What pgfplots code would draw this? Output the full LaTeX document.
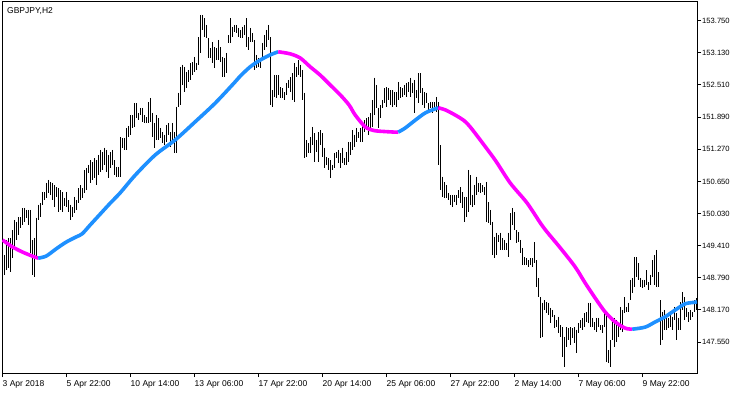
\documentclass[border=0pt]{standalone}
\usepackage{fontspec}
\setmainfont{Liberation Sans}
\usepackage{pgfplots}
\usepackage{pgfplotstable}
\pgfplotsset{compat=1.18}
\definecolor{maBlue}{RGB}{30,144,255}
\definecolor{maMag}{RGB}{255,0,255}
\pgfplotstableread{
i hi lo
0 149.33 148.90
1 149.23 148.85
2 149.52 148.94
3 149.56 148.98
4 149.56 148.90
5 149.71 149.17
6 149.91 149.37
7 149.87 149.52
8 149.96 149.62
9 149.96 149.75
10 150.14 149.81
11 150.14 149.87
12 150.10 149.95
13 150.10 149.81
14 150.10 149.27
15 149.52 148.85
16 149.56 148.81
17 149.95 149.17
18 150.20 149.91
19 150.23 149.96
20 150.45 150.20
21 150.45 150.29
22 150.62 150.33
23 150.68 150.43
24 150.64 150.39
25 150.62 150.29
26 150.58 150.16
27 150.54 150.35
28 150.52 150.06
29 150.48 150.10
30 150.45 150.06
31 150.33 150.18
32 150.45 150.16
33 150.29 150.06
34 150.20 149.91
35 150.16 149.96
36 150.35 150.04
37 150.29 150.10
38 150.52 150.23
39 150.58 150.29
40 150.52 150.33
41 150.87 150.43
42 150.91 150.48
43 150.97 150.81
44 151.06 150.62
45 151.02 150.68
46 151.10 150.72
47 151.06 150.58
48 151.16 150.77
49 151.26 150.83
50 151.22 150.87
51 151.30 150.97
52 151.26 150.83
53 151.16 150.72
54 151.22 150.91
55 151.26 150.97
56 151.06 150.77
57 150.93 150.74
58 150.93 150.74
59 151.51 150.74
60 151.49 151.30
61 151.49 151.26
62 151.68 151.26
63 151.72 151.51
64 151.93 151.55
65 151.93 151.68
66 152.16 151.70
67 152.16 151.87
68 151.97 151.83
69 152.07 151.93
70 152.07 151.80
71 151.93 151.78
72 151.89 151.78
73 152.18 151.78
74 152.26 151.80
75 151.97 151.51
76 151.78 151.30
77 151.93 151.45
78 151.87 151.45
79 151.68 151.49
80 151.60 151.39
81 151.55 151.35
82 151.74 151.41
83 151.78 151.55
84 151.60 151.31
85 151.78 151.39
86 151.60 151.20
87 152.09 151.20
88 152.36 152.09
89 152.86 152.12
90 152.90 152.51
91 152.86 152.37
92 152.76 152.45
93 152.80 152.57
94 152.93 152.61
95 152.95 152.70
96 153.05 152.76
97 152.93 152.80
98 153.43 152.90
99 153.86 153.13
100 153.86 153.57
101 153.80 153.43
102 153.67 153.42
103 153.42 153.03
104 153.22 153.03
105 153.34 152.93
106 153.24 152.84
107 153.22 152.99
108 153.38 152.99
109 153.24 152.95
110 153.05 152.66
111 153.03 152.66
112 153.13 152.74
113 153.47 153.32
114 153.80 153.32
115 153.63 153.43
116 153.67 153.53
117 153.67 153.51
118 153.61 153.43
119 153.57 153.42
120 153.63 153.42
121 153.67 153.47
122 153.80 153.24
123 153.43 153.18
124 153.61 153.34
125 153.51 153.34
126 153.38 152.80
127 153.09 152.84
128 153.03 152.86
129 153.03 152.84
130 153.32 152.99
131 153.47 153.18
132 153.57 153.24
133 153.67 153.38
134 153.43 152.12
135 152.41 152.09
136 152.70 152.28
137 152.70 152.26
138 152.70 152.32
139 152.47 152.26
140 152.45 152.26
141 152.37 152.22
142 152.55 152.32
143 152.61 152.45
144 152.66 152.37
145 152.74 152.22
146 152.93 152.18
147 152.86 152.66
148 152.99 152.70
149 152.90 152.66
150 152.80 152.22
151 152.36 151.10
152 151.45 151.12
153 151.39 151.20
154 151.51 151.20
155 151.70 151.35
156 151.58 151.02
157 151.45 151.22
158 151.60 151.02
159 151.64 151.35
160 151.58 151.12
161 151.30 150.91
162 151.12 150.97
163 151.10 150.87
164 151.06 150.72
165 150.97 150.87
166 151.20 150.91
167 151.22 151.10
168 151.26 151.00
169 151.20 150.91
170 151.30 151.00
171 151.10 150.97
172 151.22 150.97
173 151.41 151.02
174 151.41 151.16
175 151.64 151.26
176 151.55 151.31
177 151.68 151.41
178 151.60 151.49
179 151.68 151.41
180 151.74 151.41
181 151.83 151.60
182 151.87 151.64
183 151.89 151.55
184 151.97 151.64
185 152.22 151.70
186 152.65 151.93
187 152.51 152.07
188 152.07 151.68
189 152.12 151.87
190 152.22 152.07
191 152.45 152.16
192 152.47 152.09
193 152.45 152.22
194 152.41 152.12
195 152.41 152.09
196 152.37 152.12
197 152.37 152.09
198 152.57 152.22
199 152.47 152.26
200 152.45 152.28
201 152.51 152.32
202 152.55 152.28
203 152.57 152.37
204 152.65 152.28
205 152.55 152.36
206 152.61 151.97
207 152.41 152.26
208 152.74 152.16
209 152.74 152.36
210 152.45 152.12
211 152.37 152.07
212 152.36 152.16
213 152.16 151.99
214 152.18 152.07
215 152.18 151.97
216 152.18 152.03
217 152.28 151.99
218 152.18 150.97
219 151.35 150.48
220 150.74 150.35
221 150.64 150.33
222 150.58 150.33
223 150.43 150.29
224 150.39 150.20
225 150.39 150.16
226 150.39 150.25
227 150.39 150.20
228 150.48 150.33
229 150.54 150.23
230 150.45 150.14
231 150.35 149.87
232 150.35 149.96
233 150.87 150.06
234 150.77 150.20
235 150.39 150.16
236 150.58 150.20
237 150.74 150.39
238 150.62 150.45
239 150.62 150.43
240 150.58 150.45
241 150.54 150.39
242 150.64 149.87
243 150.25 149.85
244 150.10 149.81
245 149.87 149.23
246 149.58 149.17
247 149.66 149.23
248 149.62 149.48
249 149.66 149.33
250 149.56 149.33
251 149.52 149.33
252 149.46 149.33
253 149.66 149.19
254 150.04 149.52
255 150.14 149.81
256 150.06 149.71
257 149.71 149.46
258 149.67 149.48
259 149.52 149.27
260 149.37 149.04
261 149.19 149.04
262 149.17 149.04
263 149.13 149.00
264 149.17 149.04
265 149.17 149.00
266 149.48 149.08
267 149.13 148.61
268 148.79 148.42
269 148.42 147.63
270 148.31 147.65
271 148.36 148.17
272 148.32 148.11
273 148.31 148.07
274 148.21 147.92
275 148.17 148.04
276 148.07 147.82
277 147.98 147.84
278 148.04 147.73
279 147.88 147.65
280 147.84 147.26
281 147.65 147.07
282 147.84 147.46
283 147.82 147.59
284 147.84 147.50
285 147.82 147.63
286 147.84 147.53
287 147.79 147.34
288 147.92 147.73
289 147.98 147.82
290 148.02 147.79
291 148.11 147.84
292 148.13 147.94
293 148.31 147.92
294 148.31 147.84
295 148.02 147.84
296 147.94 147.79
297 148.02 147.75
298 148.02 147.84
299 147.88 147.79
300 147.88 147.73
301 148.11 147.84
302 148.11 147.17
303 147.40 147.15
304 147.59 147.07
305 147.94 147.59
306 148.02 147.46
307 147.98 147.55
308 147.92 147.65
309 148.23 147.79
310 148.17 147.75
311 148.42 148.11
312 148.23 148.13
313 148.31 148.13
314 148.75 148.36
315 148.79 148.50
316 149.19 148.61
317 149.19 148.81
318 149.08 148.75
319 148.79 148.61
320 148.75 148.60
321 148.75 148.61
322 148.94 148.65
323 148.71 148.56
324 148.85 148.65
325 149.13 148.81
326 149.23 148.65
327 149.33 148.61
328 148.90 148.61
329 148.36 147.50
330 148.13 147.59
331 148.17 147.79
332 148.02 147.79
333 148.02 147.82
334 148.13 147.84
335 148.04 147.79
336 148.23 147.98
337 148.11 147.59
338 148.02 147.79
339 148.32 147.79
340 148.52 148.17
341 148.42 147.98
342 148.21 148.04
343 148.13 147.94
344 148.17 147.98
345 148.13 148.04
346 148.36 148.13
347 148.40 148.17
}\bars
\begin{document}
\begin{tikzpicture}
\useasboundingbox (-2bp,-21bp) rectangle (748bp,373bp);
\fill[white] (-2bp,-21bp) rectangle (748bp,373bp);
\begin{axis}[
  at={(0,0)}, anchor=south west,
  scale only axis, width=695bp, height=371bp,
  xmin=-0.25, xmax=347.25, ymin=146.955, ymax=154.11,
  axis line style={black, line width=1bp},
  tick style={black, line width=1bp},
  tick align=outside, major tick length=4bp,
  xtick={0,32,...,320},
  xticklabels={3 Apr 2018, 5 Apr 22:00, 10 Apr 14:00, 13 Apr 06:00, 17 Apr 22:00, 20 Apr 14:00, 25 Apr 06:00, 27 Apr 22:00, 2 May 14:00, 7 May 06:00, 9 May 22:00},
  ytick={147.55,148.17,148.79,149.41,150.03,150.65,151.27,151.89,152.51,153.13,153.75},
  yticklabels={147.550,148.170,148.790,149.410,150.030,150.650,151.270,151.890,152.510,153.130,153.750},
  xtick pos=bottom, ytick pos=right, yticklabel pos=right,
  xticklabel style={font=\fontsize{8.5bp}{10bp}\selectfont, anchor=north west, inner sep=0pt, yshift=-3bp},
  yticklabel style={font=\fontsize{7.6bp}{9bp}\selectfont, anchor=west, inner sep=0pt, xshift=1bp},
]
\addplot[draw=none, mark=none, forget plot,
  error bars/.cd, y dir=minus, y explicit, error mark=none,
  error bar style={draw=black, line width=1bp, solid}]
  table[x=i, y=hi, y error minus expr=\thisrow{hi}-\thisrow{lo}] {\bars};
\addplot[maMag, line width=3.6bp, smooth, tension=0.5] coordinates {(0,149.52) (4.85,149.39) (9.85,149.29) (14.85,149.21) (17.85,149.17)};
\addplot[maBlue, line width=3.6bp, smooth, tension=0.5] coordinates {(17.85,149.17) (21.85,149.21) (26.85,149.35) (31.85,149.48) (36.85,149.58) (39.85,149.64) (43.85,149.81) (48.85,150.02) (53.85,150.23) (58.85,150.43) (66.35,150.77) (76.35,151.16) (86.35,151.45) (96.35,151.80) (106.35,152.16) (115.85,152.55) (118.85,152.68) (123.85,152.86) (128.85,152.99) (133.85,153.09) (137.85,153.15)};
\addplot[maMag, line width=3.6bp, smooth, tension=0.5] coordinates {(137.85,153.15) (143.85,153.11) (148.85,153.03) (153.85,152.86) (158.85,152.70) (163.85,152.51) (168.85,152.32) (173.35,152.12) (176.35,151.93) (181.35,151.70) (184.85,151.64) (187.85,151.62) (196.35,151.60) (197.85,151.60)};
\addplot[maBlue, line width=3.6bp, smooth, tension=0.5] coordinates {(197.85,151.60) (201.35,151.68) (206.35,151.83) (211.35,151.97) (216.35,152.05) (217.85,152.07)};
\addplot[maMag, line width=3.6bp, smooth, tension=0.5] coordinates {(217.85,152.07) (221.35,152.03) (226.35,151.93) (230.85,151.82) (233.85,151.70) (238.85,151.45) (246.35,151.06) (253.85,150.62) (262.35,150.23) (270.35,149.77) (278.85,149.37) (286.35,149.00) (291.35,148.69) (296.35,148.40) (301.35,148.13) (306.35,147.94) (311.35,147.82) (314.85,147.80)};
\addplot[maBlue, line width=3.6bp, smooth, tension=0.5] coordinates {(314.85,147.80) (321.35,147.84) (326.35,147.94) (331.35,148.04) (336.35,148.17) (341.35,148.29) (346.35,148.32) (347.25,148.33)};
\node[anchor=north west, inner sep=0pt, font=\fontsize{8.5bp}{10bp}\selectfont] at (rel axis cs:0,1) [xshift=5bp, yshift=-5bp] {GBPJPY,H2};
\end{axis}
\end{tikzpicture}
\end{document}
